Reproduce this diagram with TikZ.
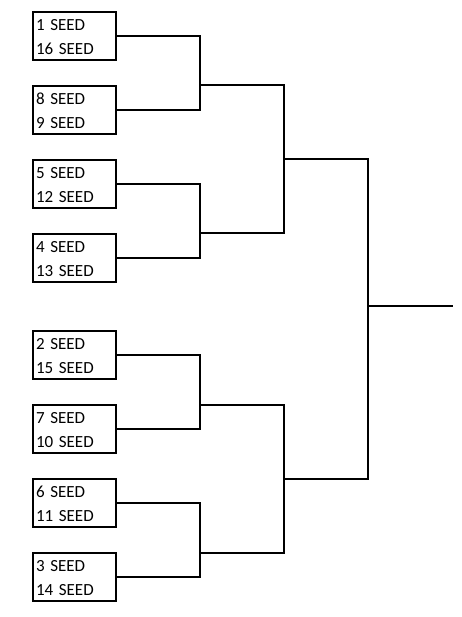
\documentclass[tikz,border=0pt]{standalone}
\usepackage{fontspec}
\setmainfont{Carlito}
\usepackage{tikz}
\usetikzlibrary{positioning}

\begin{document}
\begin{tikzpicture}[
  x=1pt,
  y=-1pt,
  font=\fontsize{17}{24}\selectfont,
  seed/.style={draw=black, line width=1.6pt, minimum width=83pt, minimum height=48pt,
    text width=77pt, inner xsep=3pt, inner ysep=0pt, text height=14pt, align=left},
  link/.style={draw=black, line width=1.1pt}
]
\useasboundingbox (0,0) rectangle (462,617);

% first round
\node[seed] (s1) at (74.5,36) {1 SEED\\16 SEED};
\node[seed] (s8) at (74.5,110) {8 SEED\\9 SEED};
\node[seed] (s5) at (74.5,184) {5 SEED\\12 SEED};
\node[seed] (s4) at (74.5,258) {4 SEED\\13 SEED};
\node[seed] (s2) at (74.5,355) {2 SEED\\15 SEED};
\node[seed] (s7) at (74.5,429) {7 SEED\\10 SEED};
\node[seed] (s6) at (74.5,503) {6 SEED\\11 SEED};
\node[seed] (s3) at (74.5,577) {3 SEED\\14 SEED};

% junctions
\coordinate (r1) at (200,85);
\coordinate (r2) at (200,233);
\coordinate (r3) at (200,405);
\coordinate (r4) at (200,553);
\coordinate (q1) at (284,159);
\coordinate (q2) at (284,479);
\coordinate (final) at (368,306);
\coordinate (champ) at (453,306);

\draw[link] (s1.east) -| (r1) |- (s8.east);
\draw[link] (s5.east) -| (r2) |- (s4.east);
\draw[link] (s2.east) -| (r3) |- (s7.east);
\draw[link] (s6.east) -| (r4) |- (s3.east);

\draw[link] (r1) -| (q1) |- (r2);
\draw[link] (r3) -| (q2) |- (r4);

\draw[link] (q1) -| (final) |- (q2);
\draw[link] (final) -- (champ);

\end{tikzpicture}
\end{document}
